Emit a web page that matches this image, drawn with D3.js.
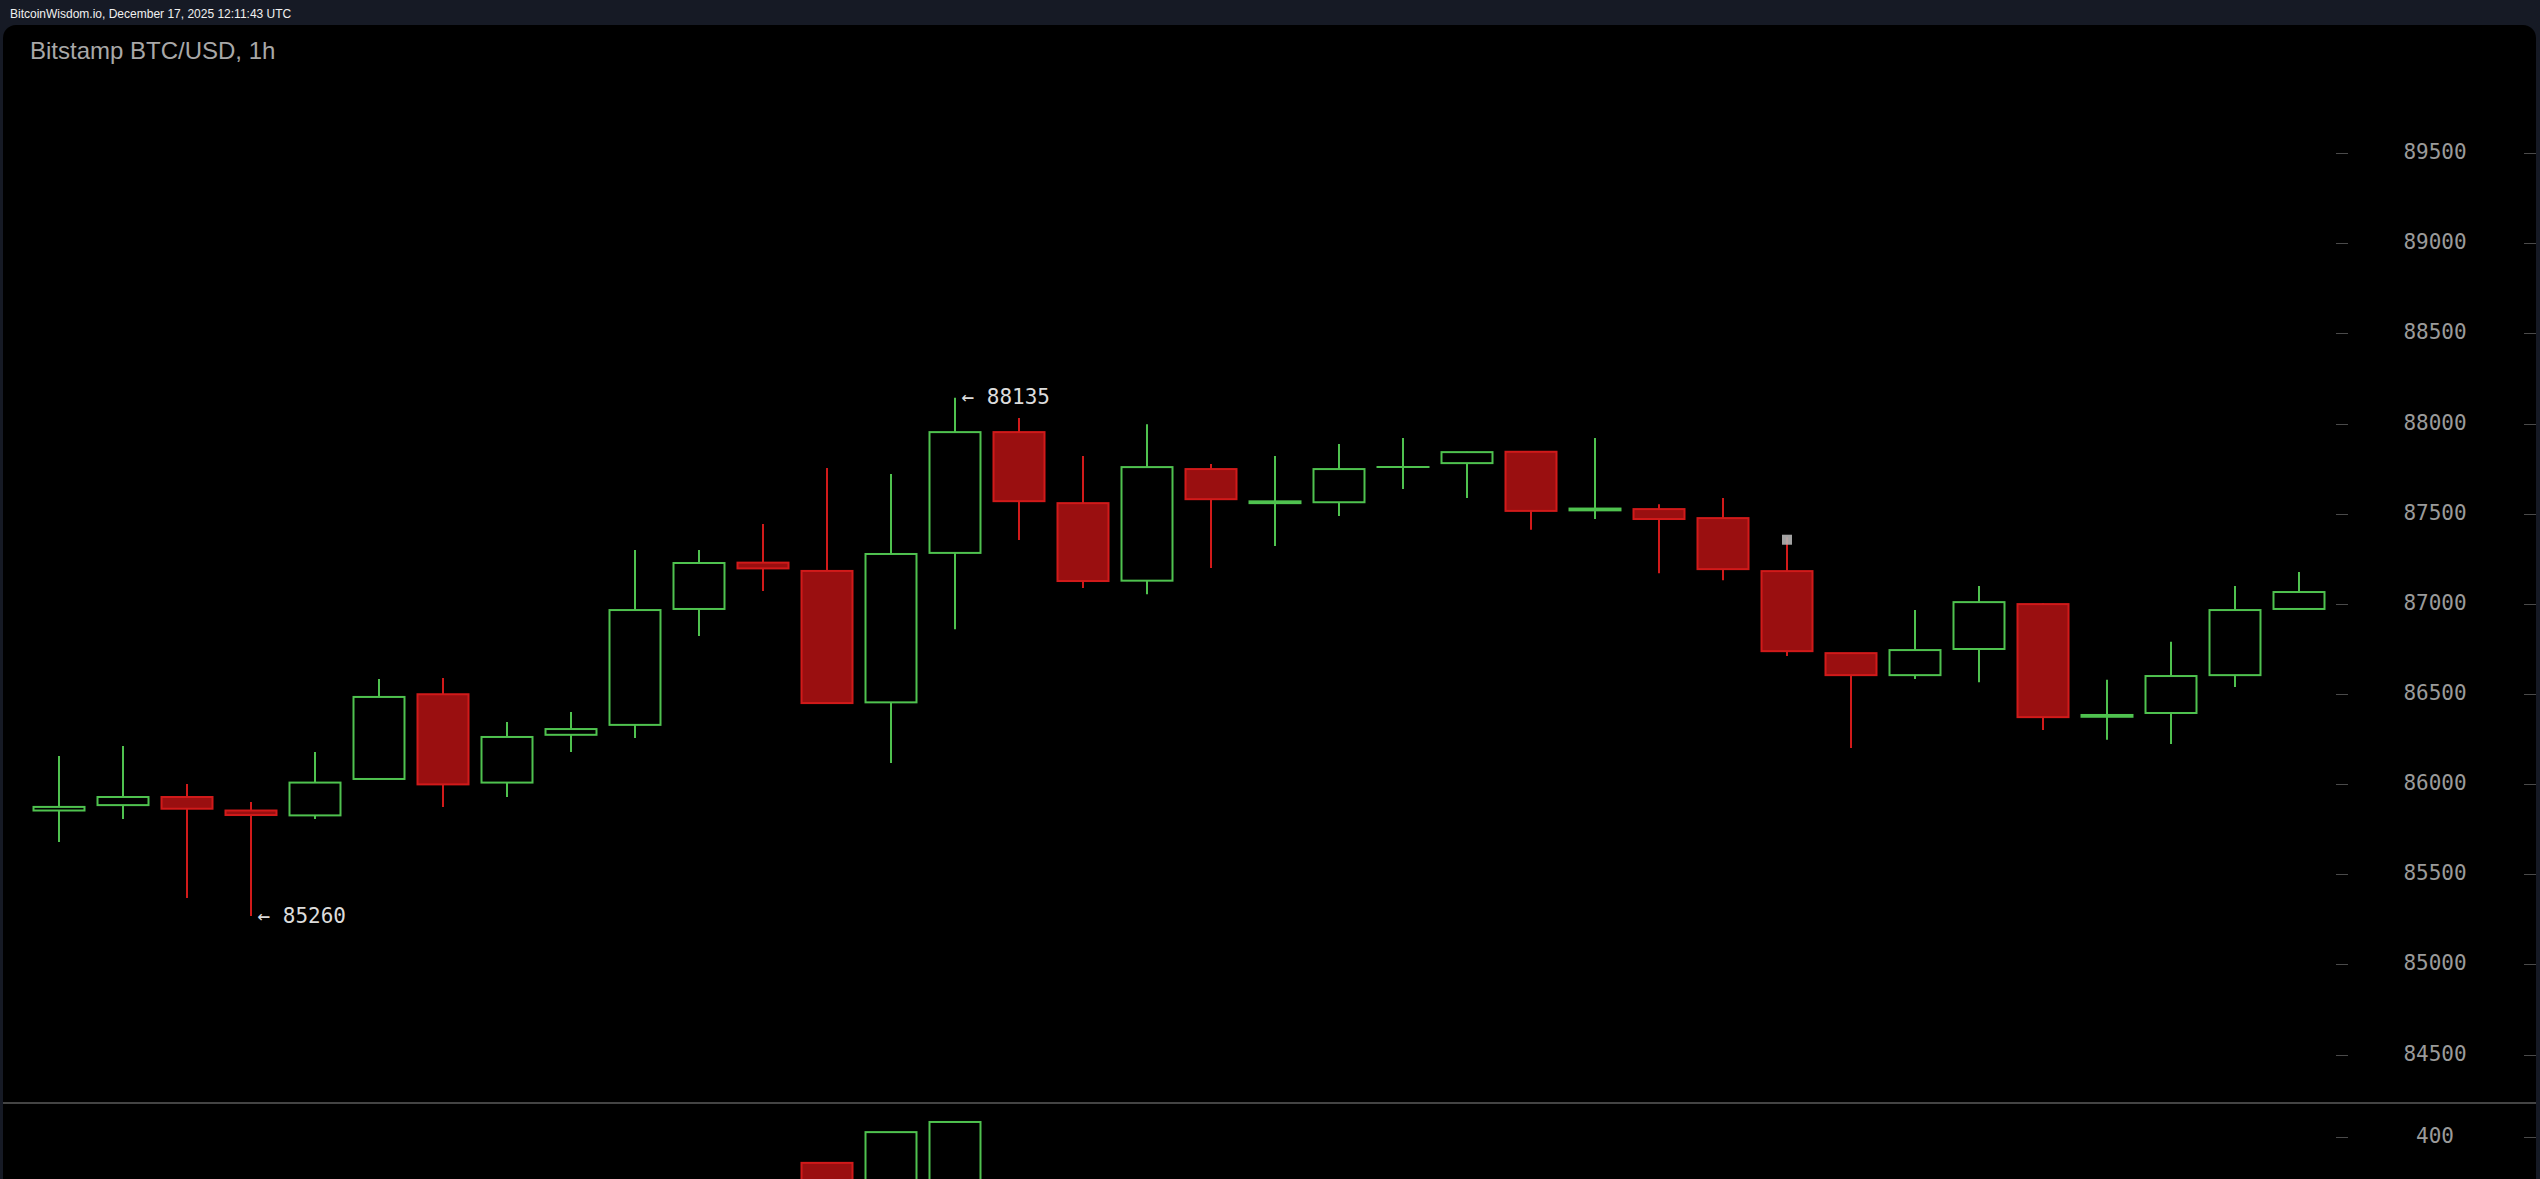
<!DOCTYPE html>
<html>
<head>
<meta charset="utf-8">
<script src="https://cdn.jsdelivr.net/npm/d3@7"></script>
<style>
  html, body { margin: 0; padding: 0; background: #161a25; overflow: hidden; }
  svg { display: block; }
</style>
</head>
<body>
<svg id="chart" width="2540" height="1179"></svg>
<script>
// ---- Data (Bitstamp BTC/USD, 1h candles) ----
const openP  = [85845, 85875, 85920, 85845, 85818, 86020, 86490, 86000, 86265, 86320, 86963, 87220,
                87174, 86445, 87274, 87944, 87550, 87120, 87739, 87550, 87555, 87750, 87772, 87835,
                87510, 87517, 87467, 87173, 86718, 86596, 86741, 86990, 86365, 86386, 86596, 86963];
const highP  = [86147, 86203, 85992, 85892, 86170, 86575, 86580, 86336, 86392, 87290, 87290, 87434,
                87745, 87711, 88135, 88022, 87811, 87988, 87767, 87811, 87878, 87911, 87835, 87835,
                87911, 87544, 87578, 87361, 86720, 86957, 87090, 86995, 86570, 86781, 87090, 87168];
const lowP   = [85670, 85798, 85360, 85260, 85798, 86020, 85865, 85920, 86170, 86247, 86813, 87063,
                86441, 86109, 86851, 87346, 87080, 87045, 87190, 87312, 87479, 87628, 87578, 87402,
                87462, 87161, 87123, 86702, 86192, 86574, 86557, 86291, 86237, 86214, 86530, 86963];
const closeP = [85865, 85920, 85855, 85820, 86000, 86475, 85990, 86253, 86297, 86957, 87218, 87188,
                86441, 87268, 87944, 87561, 87118, 87750, 87572, 87560, 87739, 87750, 87833, 87507,
                87520, 87462, 87184, 86729, 86596, 86735, 87001, 86363, 86375, 86591, 86957, 87057];
const volume = [60, 45, 120, 150, 70, 95, 130, 60, 35, 180, 110, 55,
                311, 411, 444, 230, 160, 140, 90, 70, 80, 50, 40, 120,
                60, 70, 110, 190, 150, 80, 90, 170, 100, 80, 110, 60];
const priceTicks  = [84500, 85000, 85500, 86000, 86500, 87000, 87500, 88000, 88500, 89000, 89500];
const volumeTicks = [400];
const headerText = "BitcoinWisdom.io, December 17, 2025 12:11:43 UTC";
const titleText  = "Bitstamp BTC/USD, 1h";
const markerIndex = 27; // grey marker on top of a candle wick

// ---- Layout ----
const W = 2540, H = 1179;
const svg = d3.select("#chart");
const n = openP.length;
const idx = d3.range(n);

const x = d3.scaleLinear().domain([0, n - 1]).range([59, 59 + (n - 1) * 64]);
const y = d3.scaleLinear().domain([84500, 89500]).range([1053, 151.6]);
const yv = d3.scaleLinear().domain([0, 400]).range([1258.5, 1135.5]);
const bodyW = 51;

const GREEN = "#4fc24f", RED = "#d11a1a", RED_FILL = "#9a0f10";
const MONO = "'DejaVu Sans Mono', monospace";
const SANS = "'Liberation Sans', Arial, sans-serif";

// background + panel
svg.append("rect").attr("width", W).attr("height", H).attr("fill", "#161a25");
svg.append("rect").attr("x", 3).attr("y", 25).attr("width", 2533).attr("height", 1250)
  .attr("rx", 13).attr("fill", "#000");

// header and title
svg.append("text").attr("x", 10).attr("y", 18).attr("fill", "#f0f0f0")
  .attr("font-family", SANS).attr("font-size", 12).text(headerText);
svg.append("text").attr("x", 30).attr("y", 59).attr("fill", "#a8a8a8")
  .attr("font-family", SANS).attr("font-size", 24).text(titleText);

// price axis ticks and labels
const axisG = svg.append("g");
priceTicks.forEach(v => {
  const yy = Math.round(y(v) + 1.5) + 0.5;
  axisG.append("line").attr("x1", 2336).attr("x2", 2348).attr("y1", yy).attr("y2", yy)
    .attr("stroke", "#4a4a4a").attr("stroke-width", 1);
  axisG.append("line").attr("x1", 2524).attr("x2", 2536).attr("y1", yy).attr("y2", yy)
    .attr("stroke", "#4a4a4a").attr("stroke-width", 1);
  axisG.append("text").attr("x", 2435).attr("y", y(v)).attr("dy", "0.36em")
    .attr("text-anchor", "middle").attr("fill", "#9a9a9a")
    .attr("font-family", MONO).attr("font-size", 21).text(v);
});

// separator between price and volume panes
svg.append("line").attr("x1", 3).attr("x2", 2536).attr("y1", 1103).attr("y2", 1103)
  .attr("stroke", "#444").attr("stroke-width", 2);

// volume ticks
volumeTicks.forEach(v => {
  const yy = Math.round(yv(v) + 1.5) + 0.5;
  axisG.append("line").attr("x1", 2336).attr("x2", 2348).attr("y1", yy).attr("y2", yy)
    .attr("stroke", "#4a4a4a").attr("stroke-width", 1);
  axisG.append("line").attr("x1", 2524).attr("x2", 2536).attr("y1", yy).attr("y2", yy)
    .attr("stroke", "#4a4a4a").attr("stroke-width", 1);
  axisG.append("text").attr("x", 2435).attr("y", yv(v)).attr("dy", "0.36em")
    .attr("text-anchor", "middle").attr("fill", "#9a9a9a")
    .attr("font-family", MONO).attr("font-size", 21).text(v);
});

// volume bars (clipped to volume pane)
svg.append("clipPath").attr("id", "volClip").append("rect")
  .attr("x", 3).attr("y", 1105).attr("width", 2533).attr("height", 200);
const volG = svg.append("g").attr("clip-path", "url(#volClip)");
idx.forEach(i => {
  const up = closeP[i] >= openP[i];
  volG.append("rect")
    .attr("x", x(i) - bodyW / 2).attr("y", yv(volume[i]))
    .attr("width", bodyW).attr("height", Math.max(0, 1300 - yv(volume[i])))
    .attr("fill", up ? "#000" : RED_FILL)
    .attr("stroke", up ? GREEN : RED).attr("stroke-width", 2);
});

// candles
const cG = svg.append("g");
idx.forEach(i => {
  const up = closeP[i] >= openP[i];
  const col = up ? GREEN : RED;
  const cx = Math.round(x(i));
  cG.append("line").attr("x1", cx).attr("x2", cx)
    .attr("y1", y(highP[i])).attr("y2", y(lowP[i]))
    .attr("stroke", col).attr("stroke-width", 2);
  const yTop = y(Math.max(openP[i], closeP[i]));
  const yBot = y(Math.min(openP[i], closeP[i]));
  const h = yBot - yTop;
  if (h < 1) {
    cG.append("line").attr("x1", cx - bodyW / 2 - 1).attr("x2", cx + bodyW / 2 + 1)
      .attr("y1", yTop).attr("y2", yTop).attr("stroke", col).attr("stroke-width", 2);
  } else {
    cG.append("rect").attr("x", cx - bodyW / 2).attr("y", yTop)
      .attr("width", bodyW).attr("height", h)
      .attr("fill", up ? "#000" : RED_FILL)
      .attr("stroke", col).attr("stroke-width", 2);
  }
});

// grey marker square
svg.append("rect")
  .attr("x", Math.round(x(markerIndex)) - 5).attr("y", y(highP[markerIndex]) - 2.5)
  .attr("width", 10).attr("height", 10).attr("fill", "#b4b4b4").attr("opacity", 0.9);

// high / low annotations
const hiIdx = d3.maxIndex(highP), loIdx = d3.minIndex(lowP);
[[hiIdx, highP[hiIdx]], [loIdx, lowP[loIdx]]].forEach(([i, v]) => {
  svg.append("text").attr("x", Math.round(x(i)) + 6.5).attr("y", y(v) - 1).attr("dy", "0.36em")
    .attr("fill", "#dcdcdc").attr("font-family", MONO).attr("font-size", 21)
    .text("\u2190 " + v);
});
</script>
</body>
</html>
